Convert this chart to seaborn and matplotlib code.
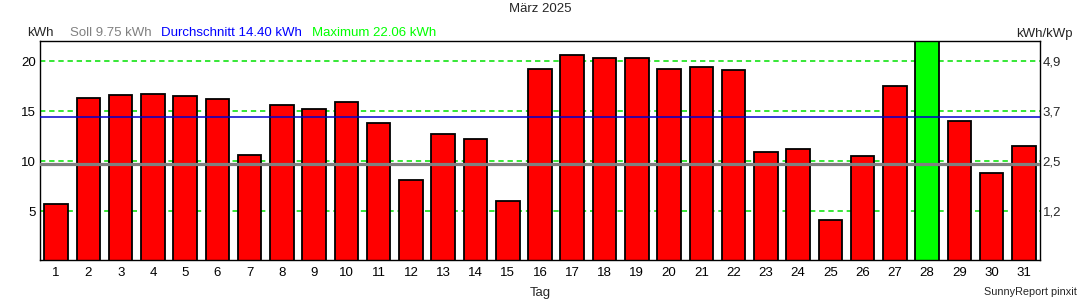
import matplotlib
matplotlib.use("Agg")
import matplotlib.pyplot as plt
import seaborn as sns
import pandas as pd

# ---- data ----
days = [str(d) for d in range(1, 32)]
energy_kwh = [5.7, 16.3, 16.6, 16.7, 16.5, 16.2, 10.6, 15.6, 15.2, 15.9,
              13.8, 8.1, 12.7, 12.2, 6.0, 19.2, 20.6, 20.3, 20.3, 19.2,
              19.4, 19.1, 10.9, 11.2, 4.1, 10.5, 17.5, 22.06, 14.0, 8.8, 11.5]
soll = 9.75
average = 14.40
maximum = 22.06
left_ticks = [5, 10, 15, 20]
right_labels = ["1,2", "2,5", "3,7", "4,9"]
title = "März 2025"

sns.set_style("white")
plt.rcParams["font.family"] = ["Liberation Sans", "DejaVu Sans"]
FS = 9.5

df = pd.DataFrame({"Tag": days, "kWh": energy_kwh})
colors = {d: ("#00FF00" if v == max(energy_kwh) else "#FF0000") for d, v in zip(days, energy_kwh)}

fig = plt.figure(figsize=(10.8, 3.0), dpi=100)
ax = fig.add_axes([40 / 1080, 40.5 / 300, 1000 / 1080, 219 / 300])

sns.barplot(data=df, x="Tag", y="kWh", hue="Tag", palette=colors, legend=False,
            width=0.73, edgecolor="black", linewidth=1.3, ax=ax, zorder=2,
            saturation=1)

ax.set_xlim(-0.5, len(days) - 0.5)
ax.set_ylim(0.18, 22.08)
ax.set_yticks(left_ticks)
ax.set_yticklabels([str(t) for t in left_ticks])
ax.grid(axis="y", color="#00E000", linestyle=(0, (3.5, 2.5)), linewidth=1.1, alpha=1.0, zorder=0)
ax.set_axisbelow(True)
ax.axhline(soll, color="#808080", linewidth=2.3, zorder=3)
ax.axhline(average, color="#0000CC", linewidth=1.1, zorder=3)

ax.set_xlabel("")
ax.set_ylabel("")
ax.tick_params(axis="both", length=0, labelsize=FS, colors="black")
ax.tick_params(axis="x", pad=5.5)
ax.tick_params(axis="y", pad=3)
for s in ax.spines.values():
    s.set_color("black")
    s.set_linewidth(1.0)
    s.set_visible(True)

ax2 = ax.twinx()
ax2.set_ylim(ax.get_ylim())
ax2.set_yticks(left_ticks)
ax2.set_yticklabels(right_labels)
ax2.tick_params(axis="y", length=0, labelsize=FS, pad=2)
for s in ax2.spines.values():
    s.set_visible(False)

# header texts
fig.text(540 / 1080, 1 - 12.5 / 300, title, ha="center", va="baseline", fontsize=FS)
yb = 1 - 36.5 / 300
fig.text(27 / 1080, yb, "kWh", ha="left", va="baseline", fontsize=FS)
fig.text(70 / 1080, yb, f"Soll {soll:.2f} kWh", ha="left", va="baseline", fontsize=FS, color="#808080")
fig.text(161 / 1080, yb, f"Durchschnitt {average:.2f} kWh", ha="left", va="baseline", fontsize=FS, color="#0000FF")
fig.text(312 / 1080, yb, f"Maximum {maximum:.2f} kWh", ha="left", va="baseline", fontsize=FS, color="#00FF00")
fig.text(1073 / 1080, yb, "kWh/kWp", ha="right", va="baseline", fontsize=FS)

fig.text(540 / 1080, 1 - 296 / 300, "Tag", ha="center", va="baseline", fontsize=FS)
fig.text(1077 / 1080, 1 - 295 / 300, "SunnyReport pinxit", ha="right", va="baseline", fontsize=7.8)

fig.savefig("out.png", dpi=100, facecolor="white")
